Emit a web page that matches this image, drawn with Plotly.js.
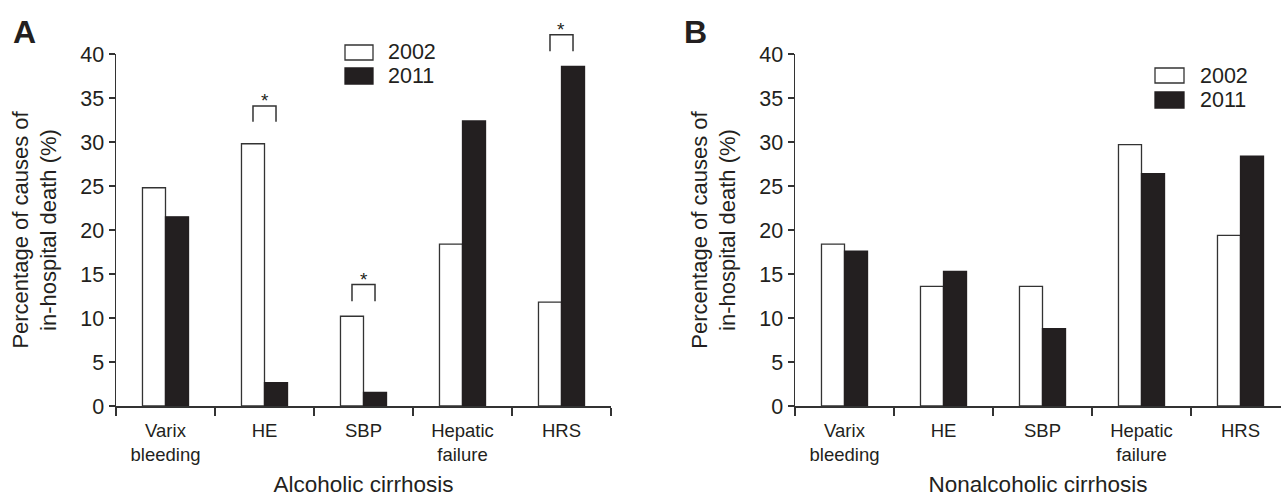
<!DOCTYPE html>
<html>
<head>
<meta charset="utf-8">
<script src="https://cdn.plot.ly/plotly-3.0.1.min.js"></script>
<style>html,body{margin:0;padding:0;background:#fff;}#chart{width:1281px;height:497px;}</style>
</head>
<body>
<div id="chart"></div>
<script>
// ---- data ----
const categories = ['Varix<br>bleeding', 'HE', 'SBP', 'Hepatic<br>failure', 'HRS'];
const seriesNames = ['2002', '2011'];
const alcoholic2002 = [24.8, 29.8, 10.2, 18.4, 11.8];
const alcoholic2011 = [21.5, 2.65, 1.55, 32.4, 38.6];
const nonalcoholic2002 = [18.4, 13.6, 13.6, 29.7, 19.4];
const nonalcoholic2011 = [17.6, 15.3, 8.8, 26.4, 28.4];
const yTickVals = [0, 5, 10, 15, 20, 25, 30, 35, 40];
const panelLabels = ['A', 'B'];
const xTitles = ['Alcoholic cirrhosis', 'Nonalcoholic cirrhosis'];
const yTitle = 'Percentage of causes of<br>in-hospital death (%)';
// significance brackets (panel A): category index, bracket top, leg bottom (%)
const sigIndex = [1, 2, 4];
const sigTop = [34.1, 13.8, 42.2];
const sigLegBottom = [32.3, 11.9, 40.3];

// ---- layout geometry ----
const W = 1281, H = 497;
const px = v => v / W;
const py = v => 1 - v / H;
const yDom = [py(406), py(54)];
const yRange = [0, 40];
const xDomA = [px(116), px(611)];
const xDomB = [px(795), 1];
const xRangeA = [-0.5, 4.5];
const xRangeB = [-0.5, -0.5 + (W - 795) / 99];
const bargap = 0.535;

const dark = '#333333';
const black = '#231f20';
const fontFam = 'Liberation Sans, Arial, Helvetica, sans-serif';

function bars(y, name, idx, xa, ya) {
  const filled = idx === 1;
  return {
    type: 'bar', x: categories, y: y, name: name, xaxis: xa, yaxis: ya,
    marker: {color: filled ? black : '#ffffff', line: {color: filled ? black : dark, width: 1.3}},
    showlegend: false, hoverinfo: 'x+y'
  };
}

const data = [
  bars(alcoholic2002, seriesNames[0], 0, 'x', 'y'),
  bars(alcoholic2011, seriesNames[1], 1, 'x', 'y'),
  bars(nonalcoholic2002, seriesNames[0], 0, 'x2', 'y2'),
  bars(nonalcoholic2011, seriesNames[1], 1, 'x2', 'y2')
];

function xAxis(dom, range, title, anchor) {
  return {
    domain: dom, range: range, type: 'category', anchor: anchor, automargin: false,
    showline: true, linecolor: dark, linewidth: 1.5,
    ticks: 'outside', tickson: 'boundaries', ticklen: 8, tickwidth: 1.5, tickcolor: dark,
    ticklabelstandoff: 7,
    tickfont: {size: 18.5, color: '#231f20'},
    showgrid: false, zeroline: false, fixedrange: true,
    title: {text: title, font: {size: 22.5, color: '#231f20'}, standoff: 19}
  };
}
function yAxis(dom, anchorX) {
  return {
    domain: dom, range: yRange, anchor: anchorX, automargin: false,
    showline: true, linecolor: dark, linewidth: 1.5,
    ticks: 'outside', ticklen: 6, tickwidth: 1.5, tickcolor: dark,
    tickmode: 'array', tickvals: yTickVals, ticktext: yTickVals.map(String),
    tickfont: {size: 21.5, color: '#231f20'},
    showgrid: false, zeroline: false, fixedrange: true,
    title: {text: yTitle, font: {size: 22, color: '#231f20'}, standoff: 17}
  };
}

// helpers to map data to paper coords
function xPaper(dom, range, v) { return dom[0] + (v - range[0]) / (range[1] - range[0]) * (dom[1] - dom[0]); }
function yPaper(v) { return yDom[0] + (v - yRange[0]) / (yRange[1] - yRange[0]) * (yDom[1] - yDom[0]); }

const shapes = [];
const annotations = [];
const half = (1 - bargap) / 4;
sigIndex.forEach((ci, k) => {
  const x0 = xPaper(xDomA, xRangeA, ci - half);
  const x1 = xPaper(xDomA, xRangeA, ci + half);
  const yt = yPaper(sigTop[k]);
  const yb = yPaper(sigLegBottom[k]);
  shapes.push({type: 'path', xref: 'paper', yref: 'paper',
    path: `M${x0},${yb} L${x0},${yt} L${x1},${yt} L${x1},${yb}`,
    line: {color: dark, width: 1.5}});
  annotations.push({xref: 'paper', yref: 'paper', x: (x0 + x1) / 2, y: yt + 5 / H,
    text: '*', showarrow: false, xanchor: 'center', yanchor: 'middle',
    font: {size: 19, color: '#231f20'}});
});

// manual legends (box + label)
function legend(boxX, boxY, textX) {
  seriesNames.forEach((nm, i) => {
    const y0 = boxY[i][0], y1 = boxY[i][1];
    shapes.push({type: 'rect', xref: 'paper', yref: 'paper',
      x0: px(boxX[0]), x1: px(boxX[1]), y0: py(y1), y1: py(y0),
      fillcolor: i === 1 ? black : '#ffffff', line: {color: i === 1 ? black : dark, width: 1.3}});
    annotations.push({xref: 'paper', yref: 'paper', x: px(textX), y: py((y0 + y1) / 2),
      text: nm, showarrow: false, xanchor: 'left', yanchor: 'middle',
      font: {size: 21.5, color: '#231f20'}});
  });
}
legend([345, 373], [[45, 60], [68, 84]], 386);
legend([1155, 1184], [[68, 83], [92, 108]], 1198);

// panel letters
annotations.push({xref: 'paper', yref: 'paper', x: px(11), y: py(32), text: '<b>' + panelLabels[0] + '</b>',
  showarrow: false, xanchor: 'left', yanchor: 'middle', font: {size: 32, color: '#231f20'}});
annotations.push({xref: 'paper', yref: 'paper', x: px(682), y: py(32), text: '<b>' + panelLabels[1] + '</b>',
  showarrow: false, xanchor: 'left', yanchor: 'middle', font: {size: 32, color: '#231f20'}});

const layout = {
  width: W, height: H, autosize: false,
  margin: {l: 0, r: 0, t: 0, b: 0, pad: 0},
  paper_bgcolor: '#ffffff', plot_bgcolor: '#ffffff',
  font: {family: fontFam, color: '#231f20'},
  barmode: 'group', bargap: bargap, bargroupgap: 0,
  showlegend: false,
  xaxis: xAxis(xDomA, xRangeA, xTitles[0], 'y'), yaxis: yAxis(yDom, 'x'),
  xaxis2: xAxis(xDomB, xRangeB, xTitles[1], 'y2'), yaxis2: yAxis(yDom, 'x2'),
  shapes: shapes, annotations: annotations
};

Plotly.newPlot('chart', data, layout, {displayModeBar: false, staticPlot: true});
</script>
</body>
</html>
